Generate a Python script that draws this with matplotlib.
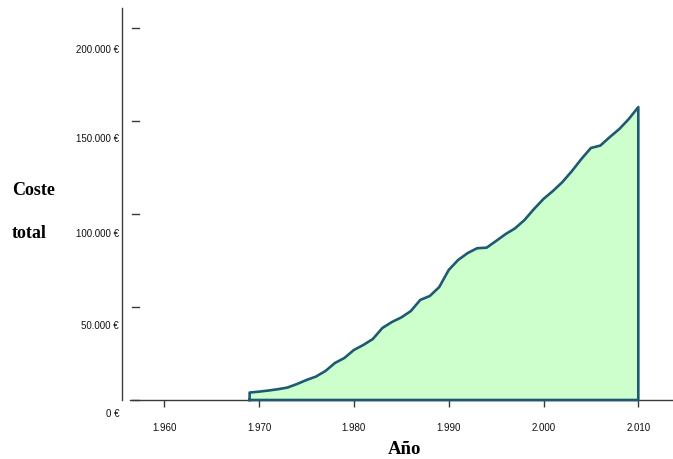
import matplotlib
matplotlib.use("Agg")
import matplotlib.pyplot as plt
import matplotlib.transforms as mtransforms

# Cumulative total cost per year
years = list(range(1969, 2011))
coste_total = [
    4000, 4500, 5100, 5800, 6700, 8600, 10750, 12600, 15600, 19900,
    22600, 26900, 29600, 32800, 38700, 41900, 44400, 47800, 53800, 55900,
    60700, 69900, 75300, 79000, 81600, 81900, 85500, 89200, 92300, 96800,
    102700, 108100, 112400, 117200, 123100, 129600, 135500, 136800, 141400,
    145700, 151100, 157500,
]
x_ticks = [1960, 1970, 1980, 1990, 2000, 2010]
y_ticks = [0, 50000, 100000, 150000, 200000]


def miles(v):
    return f"{v:,}".replace(",", ".")


W, H = 673, 459
fig = plt.figure(figsize=(W / 100, H / 100), dpi=100)
fig.patch.set_facecolor("white")

# axes box in pixel units (left, top, right, bottom)
L, T, R, B = 130, 8, 673, 400
ax = fig.add_axes([L / W, (H - B) / H, (R - L) / W, (B - T) / H])
ax.set_facecolor("white")

px_per_year = 9.48
x0 = 1960 - (164.3 - L) / px_per_year
x1 = 1960 + (R - 164.3) / px_per_year
ax.set_xlim(x0, x1)
ax.set_ylim(0, (B - T) / 93 * 50000)

axis_col = "#3a3a3a"
fill_col = "#ccffcc"
line_col = "#1f5a74"

ax.fill_between(years, coste_total, 0, color=fill_col, lw=0, zorder=2)
outline_x = [years[0]] + years + [years[-1], years[0]]
outline_y = [0] + coste_total + [0, 0]
ax.plot(outline_x, outline_y, color=line_col, lw=1.9, solid_joinstyle="round",
        zorder=3, clip_on=False)

for s in ("top", "right", "left"):
    ax.spines[s].set_visible(False)
ax.spines["bottom"].set_color(axis_col)
ax.spines["bottom"].set_linewidth(1.0)
ax.spines["bottom"].set_zorder(1)

# x axis ticks and labels
ax.set_xticks(x_ticks)
ax.set_xticklabels([miles(v) for v in x_ticks], family="Liberation Sans",
                   fontsize=7, color="#111111")
ax.tick_params(axis="x", direction="out", length=5, width=1, color=axis_col,
               pad=11.5)

# y axis: short detached dashes plus labels sitting below each dash
ax.set_yticks([])
ytr = ax.get_yaxis_transform()
for v in y_ticks:
    ax.plot([(132 - L) / (R - L), (139 - L) / (R - L)], [v, v], color=axis_col,
            lw=1, transform=ytr, clip_on=False, zorder=1)
label_drop_px = [14, 19, 20, 18, 22]
for v, drop in zip(y_ticks, label_drop_px):
    tr = mtransforms.blended_transform_factory(fig.transFigure, ax.transData) + \
        mtransforms.ScaledTranslation(0, -drop / 100, fig.dpi_scale_trans)
    ax.text(119 / W, v, f"{miles(v)} €", transform=tr, ha="right",
            va="center", family="Liberation Sans", fontsize=7, color="#111111")

# vertical axis line to the left of the plot box
fig.add_artist(plt.Line2D([122 / W, 122 / W], [(H - 400) / H, (H - 8) / H],
                          color=axis_col, lw=1.0, transform=fig.transFigure))

# axis titles
fig.text(12 / W, (H - 195) / H, "Coste", family="Liberation Serif",
         fontweight="bold", fontsize=13, ha="left", va="baseline")
fig.text(12 / W, (H - 238) / H, "total", family="Liberation Serif",
         fontweight="bold", fontsize=13, ha="left", va="baseline")
fig.text(405 / W, (H - 450) / H, "Año", family="Liberation Serif",
         fontweight="bold", fontsize=13.5, ha="center", va="center")

fig.savefig("out.png", dpi=100, facecolor="white")
